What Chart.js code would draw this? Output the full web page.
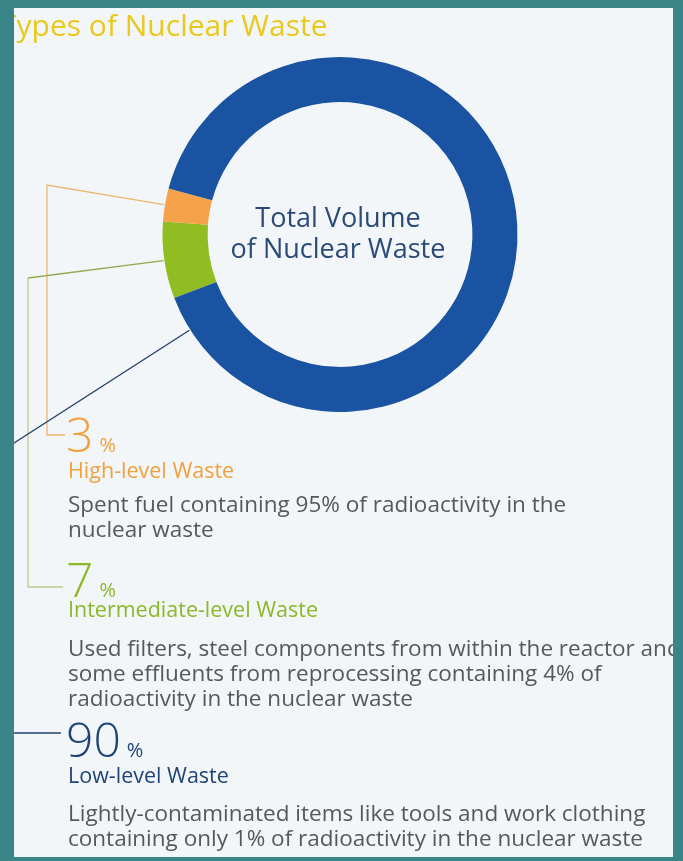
<!DOCTYPE html>
<html>
<head>
<meta charset="utf-8">
<script src="https://cdn.jsdelivr.net/npm/chart.js@4.4.0/dist/chart.umd.min.js"></script>
<style>
  html, body { margin: 0; padding: 0; background: #3a8587; overflow: hidden; }
  #wrap { width: 683px; height: 861px; }
</style>
</head>
<body>
<div id="wrap"><canvas id="wasteChart" width="683" height="861"></canvas></div>
<script>
// data, in the order the text blocks are read
const categories = ["High-level Waste", "Intermediate-level Waste", "Low-level Waste"];
const shares = [3, 7, 90];
const shareLabels = ["3", "7", "90"];
const descriptions = [
  ["Spent fuel containing 95% of radioactivity in the", "nuclear waste"],
  ["Used filters, steel components from within the reactor and", "some effluents from reprocessing containing 4% of", "radioactivity in the nuclear waste"],
  ["Lightly-contaminated items like tools and work clothing", "containing only 1% of radioactivity in the nuclear waste"],
];
const chartTitle = "Types of Nuclear Waste";
const centerLines = ["Total Volume", "of Nuclear Waste"];

// ring goes clockwise: intermediate, high, low
const ringOrder = [1, 0, 2];

const sliceColors = ["#f5a24a", "#8fbd22", "#1a53a1"];
const textColors = ["#f0a13e", "#8db729", "#1e4377"];

document.addEventListener("DOMContentLoaded", () => {
  const ctx = document.getElementById("wasteChart").getContext("2d");
  const panel = { left: 14, top: 8, right: 673, bottom: 857 };

  // background + light panel
  const panelPlugin = {
    id: "panel",
    beforeDraw(chart) {
      const c = chart.ctx;
      c.save();
      c.fillStyle = "#3a8587";
      c.fillRect(0, 0, chart.width, chart.height);
      c.fillStyle = "#f2f6f8";
      c.fillRect(panel.left, panel.top, panel.right - panel.left, panel.bottom - panel.top);
      c.restore();
    },
  };

  // text blocks, leader lines and centre label
  const annotatePlugin = {
    id: "annotate",
    afterDatasetsDraw(chart) {
      const c = chart.ctx;
      const meta = chart.getDatasetMeta(0);
      c.save();
      c.beginPath();
      c.rect(panel.left, panel.top, panel.right - panel.left, panel.bottom - panel.top);
      c.clip();

      // title (left part cut off by the panel edge like the original)
      c.fillStyle = "#eac81c";
      c.font = '30px "Open Sans"';
      c.textBaseline = "alphabetic";
      c.textAlign = "left";
      c.fillText(chartTitle, 0, 36);

      // centre text
      const arc0 = meta.data[0];
      c.fillStyle = "#2a4a78";
      c.font = '27px "Open Sans"';
      c.textAlign = "center";
      c.fillText(centerLines[0], arc0.x - 2, 227);
      c.fillText(centerLines[1], arc0.x - 2, 258);

      // anchor point on the outer edge of a slice
      function edge(i, angle) {
        const a = meta.data[ringOrder.indexOf(i)];
        const ang = angle !== undefined ? angle : (a.startAngle + a.endAngle) / 2;
        return { x: a.x + (a.outerRadius + 1) * Math.cos(ang), y: a.y + (a.outerRadius + 1) * Math.sin(ang) };
      }

      c.lineWidth = 1.3;
      // high-level
      let p = edge(0);
      c.strokeStyle = "#eeb56f";
      c.beginPath();
      c.moveTo(p.x, p.y);
      c.lineTo(47, 185);
      c.lineTo(47, 435);
      c.lineTo(65, 435);
      c.stroke();

      // intermediate-level
      p = edge(1);
      c.strokeStyle = "#93a94f";
      c.beginPath();
      c.moveTo(p.x, p.y);
      c.lineTo(28, 278);
      c.stroke();
      c.strokeStyle = "#bccd8a";
      c.beginPath();
      c.moveTo(28, 278);
      c.lineTo(28, 587);
      c.lineTo(63, 587);
      c.stroke();

      // low-level
      const low = meta.data[ringOrder.indexOf(2)];
      p = edge(2, low.endAngle - 0.2);
      c.strokeStyle = "#253f6c";
      c.beginPath();
      c.moveTo(p.x, p.y);
      c.lineTo(p.x - 190, p.y + 190 * (113 / 176));
      c.stroke();
      c.beginPath();
      c.moveTo(0, 733);
      c.lineTo(61, 733);
      c.stroke();

      // text blocks
      const numBase = [452, 597, 757];
      const labelBase = [478, 617, 783];
      const descBase = [512, 656, 821];
      c.textAlign = "left";
      for (let i = 0; i < categories.length; i++) {
        c.fillStyle = textColors[i];
        c.font = '300 48px "Open Sans"';
        c.fillText(shareLabels[i], 66, numBase[i]);
        const w = c.measureText(shareLabels[i]).width;
        c.font = '20px "Open Sans"';
        c.fillText("%", 66 + w + 6, numBase[i]);
        c.font = '21.5px "Open Sans"';
        c.fillText(categories[i], 68, labelBase[i]);
        c.fillStyle = "#57585a";
        c.font = '22.5px "Open Sans"';
        descriptions[i].forEach((line, k) => {
          c.fillText(line, 68, descBase[i] + k * 25);
        });
      }
      c.restore();
    },
  };

  new Chart(ctx, {
    type: "doughnut",
    data: {
      labels: ringOrder.map((i) => categories[i]),
      datasets: [
        {
          data: ringOrder.map((i) => shares[i]),
          backgroundColor: ringOrder.map((i) => sliceColors[i]),
          borderWidth: 0,
        },
      ],
    },
    options: {
      responsive: false,
      animation: false,
      rotation: 249,
      cutout: "74.6%",
      layout: { padding: { left: 162, right: 165, top: 57, bottom: 449 } },
      plugins: {
        legend: { display: false },
        tooltip: { enabled: false },
      },
    },
    plugins: [panelPlugin, annotatePlugin],
  });
});
</script>
</body>
</html>
